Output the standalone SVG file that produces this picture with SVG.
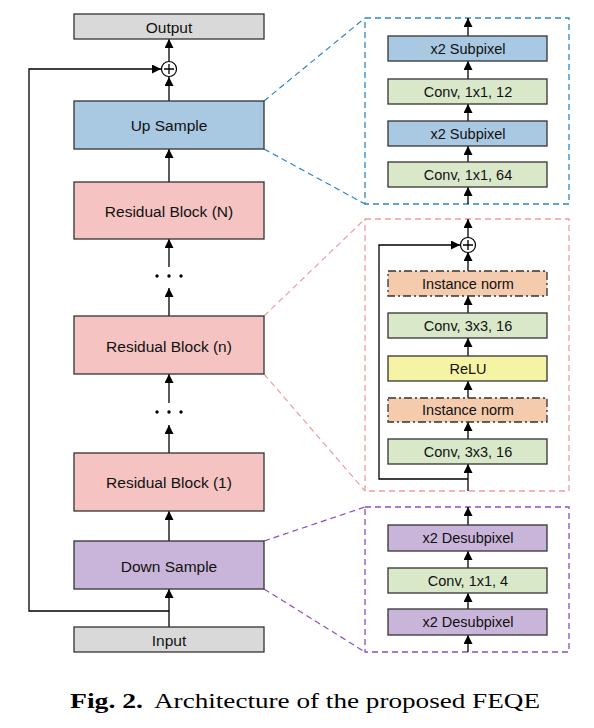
<svg xmlns="http://www.w3.org/2000/svg" width="594" height="728" viewBox="0 0 594 728">
<defs>
<marker id="ah" viewBox="0 0 10 10" refX="10" refY="5" markerWidth="9" markerHeight="9" markerUnits="userSpaceOnUse" orient="auto">
<path d="M0,0 L10,5 L0,10 z" fill="#000"/>
</marker>
</defs>
<style>
.box{stroke:#333;stroke-width:1.3}
.gray{fill:#d9d9d9}.blue{fill:#a9c8e1}.pink{fill:#f4c3c2}.purple{fill:#c9b5d9}.green{fill:#d9e8c9}.orange{fill:#f4cbad}.yellow{fill:#f5f3a4}
.dd{stroke-dasharray:8,3,2,3}
.t{font-family:"Liberation Sans",Arial,sans-serif;font-size:15.5px;fill:#111;text-anchor:middle;dominant-baseline:central}
.ts{font-family:"Liberation Sans",Arial,sans-serif;font-size:14.5px;fill:#111;text-anchor:middle;dominant-baseline:central}
.ln{stroke:#000;stroke-width:1.3;fill:none}
.arr{stroke:#000;stroke-width:1.3;fill:none;marker-end:url(#ah)}
.plus{fill:#fff;stroke:#000;stroke-width:1.2}
.panel{fill:#fff;stroke-width:1.3;stroke-dasharray:6,4}
.zoom{fill:none;stroke-width:1.2;stroke-dasharray:6,4}
.cap{font-family:"Liberation Serif","Times New Roman",serif;font-size:21px;fill:#000}
</style>

<g id="panels">
<rect id="up-panel" x="365" y="18" width="204" height="186" class="panel" stroke="#2e86c9"/>
<rect id="res-panel" x="365" y="219" width="204" height="272" class="panel" stroke="#f29c9c"/>
<rect id="down-panel" x="365" y="507" width="204" height="145" class="panel" stroke="#8b4fc2"/>
</g>

<g id="connectors">
<line x1="264" y1="101" x2="365" y2="18" class="zoom" stroke="#2e86c9"/>
<line x1="264" y1="149" x2="365" y2="204" class="zoom" stroke="#2e86c9"/>
<line x1="264" y1="316" x2="365" y2="219" class="zoom" stroke="#f29c9c"/>
<line x1="264" y1="374" x2="365" y2="491" class="zoom" stroke="#f29c9c"/>
<line x1="264" y1="541" x2="365" y2="507" class="zoom" stroke="#8b4fc2"/>
<line x1="264" y1="589" x2="365" y2="652" class="zoom" stroke="#8b4fc2"/>
<line x1="169" y1="627" x2="169" y2="589" class="arr"/>
<line x1="169" y1="541" x2="169" y2="511" class="arr"/>
<line x1="169" y1="453" x2="169" y2="425" class="arr"/>
<line x1="169" y1="403" x2="169" y2="374" class="arr"/>
<line x1="169" y1="316" x2="169" y2="288" class="arr"/>
<line x1="169" y1="267" x2="169" y2="239" class="arr"/>
<line x1="169" y1="182" x2="169" y2="149" class="arr"/>
<line x1="169" y1="101" x2="169" y2="77" class="arr"/>
<line x1="169" y1="61" x2="169" y2="39" class="arr"/>
<polyline points="169,611 29,611 29,69 161,69" class="arr"/>
<line x1="468" y1="204" x2="468" y2="187" class="arr"/>
<line x1="468" y1="162" x2="468" y2="146" class="arr"/>
<line x1="468" y1="121" x2="468" y2="104" class="arr"/>
<line x1="468" y1="79" x2="468" y2="61" class="arr"/>
<line x1="468" y1="36" x2="468" y2="18" class="arr"/>
<line x1="468" y1="491" x2="468" y2="464" class="arr"/>
<polyline points="468,479 379,479 379,245 460,245" class="arr"/>
<line x1="468" y1="439" x2="468" y2="422" class="arr"/>
<line x1="468" y1="398" x2="468" y2="381" class="arr"/>
<line x1="468" y1="356" x2="468" y2="338" class="arr"/>
<line x1="468" y1="313" x2="468" y2="296" class="arr"/>
<line x1="468" y1="271" x2="468" y2="252" class="arr"/>
<line x1="468" y1="238" x2="468" y2="219" class="arr"/>
<line x1="468" y1="652" x2="468" y2="635" class="arr"/>
<line x1="468" y1="609" x2="468" y2="593" class="arr"/>
<line x1="468" y1="568" x2="468" y2="551" class="arr"/>
<line x1="468" y1="525" x2="468" y2="507" class="arr"/>
</g>

<g id="output"><rect x="74" y="14" width="190" height="25" class="box gray"/><text x="169" y="27" class="t">Output</text></g>
<g id="add-main"><circle cx="169" cy="69" r="7.5" class="plus"/><path d="M169,64 V74 M164,69 H174" class="ln"/></g>
<g id="up-sample"><rect x="74" y="101" width="190" height="48" class="box blue"/><text x="169" y="125" class="t">Up Sample</text></g>
<g id="res-N"><rect x="74" y="182" width="190" height="57" class="box pink"/><text x="169" y="211" class="t">Residual Block (N)</text></g>
<g id="dots1"><circle cx="157" cy="276" r="1.7"/><circle cx="169" cy="276" r="1.7"/><circle cx="181" cy="276" r="1.7"/></g>
<g id="res-n"><rect x="74" y="316" width="190" height="58" class="box pink"/><text x="169" y="346" class="t">Residual Block (n)</text></g>
<g id="dots2"><circle cx="157" cy="412" r="1.7"/><circle cx="169" cy="412" r="1.7"/><circle cx="181" cy="412" r="1.7"/></g>
<g id="res-1"><rect x="74" y="453" width="190" height="58" class="box pink"/><text x="169" y="482" class="t">Residual Block (1)</text></g>
<g id="down-sample"><rect x="74" y="541" width="190" height="48" class="box purple"/><text x="169" y="566" class="t">Down Sample</text></g>
<g id="input"><rect x="74" y="627" width="190" height="25" class="box gray"/><text x="169" y="640" class="t">Input</text></g>

<g id="up-subpixel-2"><rect x="388" y="36" width="159" height="25" class="box blue"/><text x="468" y="49" class="ts">x2 Subpixel</text></g>
<g id="up-conv-12"><rect x="388" y="79" width="159" height="25" class="box green"/><text x="468" y="92" class="ts">Conv, 1x1, 12</text></g>
<g id="up-subpixel-1"><rect x="388" y="121" width="159" height="25" class="box blue"/><text x="468" y="134" class="ts">x2 Subpixel</text></g>
<g id="up-conv-64"><rect x="388" y="162" width="159" height="25" class="box green"/><text x="468" y="175" class="ts">Conv, 1x1, 64</text></g>

<g id="add-res"><circle cx="468" cy="245" r="7.5" class="plus"/><path d="M468,240 V250 M463,245 H473" class="ln"/></g>
<g id="res-in-2"><rect x="388" y="271" width="159" height="25" class="box orange dd"/><text x="468" y="284" class="ts">Instance norm</text></g>
<g id="res-conv-2"><rect x="388" y="313" width="159" height="25" class="box green"/><text x="468" y="326" class="ts">Conv, 3x3, 16</text></g>
<g id="res-relu"><rect x="388" y="356" width="159" height="25" class="box yellow"/><text x="468" y="369" class="ts">ReLU</text></g>
<g id="res-in-1"><rect x="388" y="398" width="159" height="24" class="box orange dd"/><text x="468" y="410" class="ts">Instance norm</text></g>
<g id="res-conv-1"><rect x="388" y="439" width="159" height="25" class="box green"/><text x="468" y="452" class="ts">Conv, 3x3, 16</text></g>

<g id="down-desub-2"><rect x="388" y="525" width="159" height="26" class="box purple"/><text x="468" y="538" class="ts">x2 Desubpixel</text></g>
<g id="down-conv-4"><rect x="388" y="568" width="159" height="25" class="box green"/><text x="468" y="581" class="ts">Conv, 1x1, 4</text></g>
<g id="down-desub-1"><rect x="388" y="609" width="159" height="26" class="box purple"/><text x="468" y="622" class="ts">x2 Desubpixel</text></g>

<g id="caption">
<text x="70" y="708" class="cap" font-weight="bold" textLength="73" lengthAdjust="spacingAndGlyphs">Fig. 2.</text>
<text x="154" y="708" class="cap" textLength="386" lengthAdjust="spacingAndGlyphs">Architecture of the proposed FEQE</text>
</g>
</svg>
